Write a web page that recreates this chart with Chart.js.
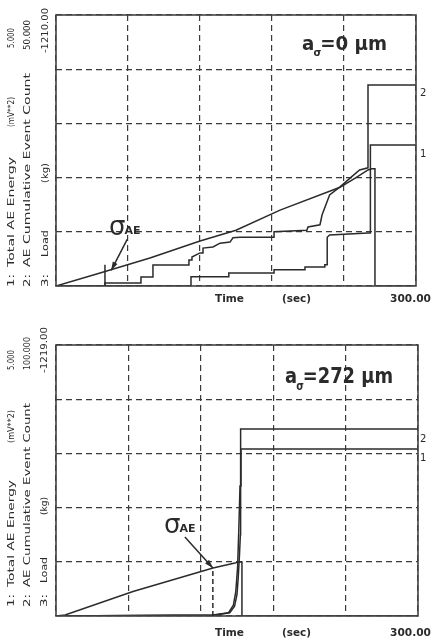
<!DOCTYPE html>
<html>
<head>
<meta charset="utf-8">
<script src="https://cdn.jsdelivr.net/npm/chart.js@4.4.1/dist/chart.umd.min.js"></script>
<style>
  html, body { margin: 0; padding: 0; background: #fff; }
  #wrap { position: relative; width: 433px; height: 644px; overflow: hidden; }
  canvas { position: absolute; left: 0; }
  #c1 { top: 0; }
  #c2 { top: 322px; }
</style>
</head>
<body>
<div id="wrap">
  <canvas id="c1" width="433" height="322"></canvas>
  <canvas id="c2" width="433" height="322"></canvas>
</div>
<script>
// time axis, seconds
const timeMax = 300;
const timeStep = 60;

// ---- upper panel: a = 0 um (energy 0..5, count 0..50, load 0..-1210 kg) ----
const upEnergyT = [0, 112.5, 112.5, 144, 144, 181.7, 181.7, 207.5, 207.5, 224, 224, 226, 226, 228, 260, 262, 262, 300];
const upEnergyV = [0, 0, 0.17, 0.17, 0.24, 0.24, 0.30, 0.30, 0.35, 0.35, 0.39, 0.39, 0.90, 0.94, 0.98, 0.98, 2.60, 2.60];

const upCountT = [0, 40.8, 40.8, 70.8, 70.8, 80.8, 80.8, 110.8, 110.8, 113.3, 113.3, 120, 122.5, 122.5, 130.8, 136.7, 145, 147.5, 153.3, 181.7, 181.7, 209, 210, 220, 221.7, 228, 236.7, 245, 253, 260, 260, 300];
const upCountV = [0, 0, 0.55, 0.55, 1.66, 1.66, 3.87, 3.87, 4.8, 4.8, 5.35, 6.1, 6.1, 7.0, 7.2, 7.9, 8.1, 8.9, 9.0, 9.0, 10.0, 10.3, 10.9, 11.3, 13.1, 16.8, 18.3, 19.9, 21.4, 21.8, 37.1, 37.1];

const upLoadT = [0, 36.7, 78.3, 120, 150, 186.7, 236.7, 249, 260, 263.3, 265.8, 265.8, 300];
const upLoadV = [0, -58, -125, -201, -249, -339, -441, -481, -518, -523, -523, 0, 0];

// ---- lower panel: a = 272 um (energy 0..5, count 0..100, load 0..-1219 kg) ----
const loEnergyT = [0, 130, 143, 147, 149, 150.5, 151.5, 152.5, 153.3, 300];
const loEnergyV = [0, 0.02, 0.06, 0.2, 0.45, 0.9, 1.6, 2.4, 3.08, 3.08];

const loCountT = [0, 132, 144, 148, 150, 151, 152, 152.8, 153, 300];
const loCountV = [0, 0.4, 1.2, 3.6, 8, 14, 22, 30, 69, 69];

const loLoadT = [0, 7.5, 63.8, 130.1, 148.3, 150.8, 154.1, 154.1, 300];
const loLoadV = [0, -4.5, -110, -216, -238, -243, -243, 0, 0];

const INK = '#2b2b2b';
const pts = (t, v) => t.map((x, i) => ({ x: x, y: v[i] }));

function hText(ctx, str, x0, x1, yBase, font) {
  ctx.save();
  ctx.font = font;
  const w = ctx.measureText(str).width;
  ctx.translate(x0, yBase);
  ctx.scale((x1 - x0) / w, 1);
  ctx.fillText(str, 0, 0);
  ctx.restore();
}

function vText(ctx, str, cx, yBot, yTop, font) {
  ctx.save();
  ctx.font = font;
  const w = ctx.measureText(str).width;
  ctx.translate(cx, yBot);
  ctx.rotate(-Math.PI / 2);
  ctx.scale((yBot - yTop) / w, 1);
  ctx.textBaseline = 'middle';
  ctx.fillText(str, 0, 0);
  ctx.restore();
}

function drawTitle(ctx, x0, x1, yBase, size, rest) {
  const big = 'bold ' + size + 'px "DejaVu Sans"';
  const small = 'bold ' + Math.round(size * 0.55) + 'px "DejaVu Sans"';
  ctx.save();
  ctx.font = big;
  const wa = ctx.measureText('a').width;
  const wr = ctx.measureText(rest).width;
  ctx.font = small;
  const ws = ctx.measureText('σ').width * 0.75;
  ctx.translate(x0, yBase);
  ctx.scale((x1 - x0) / (wa + ws + wr), 1);
  ctx.font = big;
  ctx.fillText('a', 0, 0);
  ctx.font = small;
  ctx.fillText('σ', wa - 1, size * 0.3);
  ctx.font = big;
  ctx.fillText(rest, wa + ws, 0);
  ctx.restore();
}

function drawSigma(ctx, x, yBase, size) {
  ctx.save();
  ctx.font = size + 'px "DejaVu Sans"';
  ctx.fillText('σ', x, yBase);
  const w = ctx.measureText('σ').width;
  ctx.font = 'bold ' + Math.round(size * 0.42) + 'px "DejaVu Sans"';
  ctx.fillText('AE', x + w - 1, yBase - 1);
  ctx.restore();
}

function arrow(ctx, x0, y0, x1, y1) {
  const a = Math.atan2(y1 - y0, x1 - x0);
  ctx.save();
  ctx.strokeStyle = INK;
  ctx.fillStyle = INK;
  ctx.lineWidth = 1.5;
  ctx.beginPath();
  ctx.moveTo(x0, y0);
  ctx.lineTo(x1, y1);
  ctx.stroke();
  ctx.beginPath();
  ctx.moveTo(x1, y1);
  ctx.lineTo(x1 - 9 * Math.cos(a - 0.3), y1 - 9 * Math.sin(a - 0.3));
  ctx.lineTo(x1 - 9 * Math.cos(a + 0.3), y1 - 9 * Math.sin(a + 0.3));
  ctx.closePath();
  ctx.fill();
  ctx.restore();
}

const decor = {
  id: 'decor',
  afterDraw(chart) {
    const d = chart.options.plugins.decor;
    const ctx = chart.ctx;
    const a = chart.chartArea;
    const xs = chart.scales.x, ys = chart.scales.yLoad;

    // frame
    ctx.save();
    ctx.strokeStyle = '#444';
    ctx.lineWidth = 1.6;
    ctx.strokeRect(a.left, a.top, a.right - a.left, a.bottom - a.top);
    ctx.restore();

    // onset marker
    const mx = xs.getPixelForValue(d.markT);
    ctx.save();
    ctx.strokeStyle = INK;
    ctx.lineWidth = 1.5;
    if (d.markDash) ctx.setLineDash([5, 3]);
    ctx.beginPath();
    ctx.moveTo(mx, ys.getPixelForValue(0));
    ctx.lineTo(mx, ys.getPixelForValue(d.markLoad));
    ctx.stroke();
    ctx.restore();

    ctx.fillStyle = INK;
    // rotated legend columns
    d.cols.forEach(c => vText(ctx, c[0], c[1], c[2], c[3], '9px "DejaVu Sans"'));
    // title
    drawTitle(ctx, d.title[0], d.title[1], d.title[2], d.title[3], d.title[4]);
    // sigma_AE
    drawSigma(ctx, d.sigma[0], d.sigma[1], d.sigma[2]);
    const tx = xs.getPixelForValue(d.tip[0]), ty = ys.getPixelForValue(d.tip[1]);
    arrow(ctx, tx + d.tail[0], ty + d.tail[1], tx, ty);
    // time axis texts
    const tb = d.timeBase;
    hText(ctx, 'Time', 215, 244, tb, 'bold 11px "DejaVu Sans"');
    hText(ctx, '(sec)', 282, 311, tb, 'bold 11px "DejaVu Sans"');
    hText(ctx, '300.00', 390, 431, tb, 'bold 11px "DejaVu Sans"');
    // curve numbers
    ctx.font = '10px "DejaVu Sans"';
    ctx.fillText('2', 420, d.lab2);
    ctx.fillText('1', 420, d.lab1);
  }
};

function series(label, t, v, axis) {
  return {
    label: label,
    data: pts(t, v),
    yAxisID: axis,
    borderColor: INK,
    borderWidth: 1.5,
    pointRadius: 0,
    fill: false,
    tension: 0
  };
}

const gridOpts = { color: '#3a3a3a', lineWidth: 1.2, drawTicks: false };
const borderOpts = { display: false, dash: [6, 4] };

function panel(id, p) {
  new Chart(document.getElementById(id), {
    type: 'line',
    data: {
      datasets: [
        series('Load', p.loadT, p.loadV, 'yLoad'),
        series('AE Cumulative Event Count', p.countT, p.countV, 'yCount'),
        series('Total AE Energy', p.energyT, p.energyV, 'y')
      ]
    },
    options: {
      responsive: false,
      animation: false,
      layout: { padding: p.padding },
      plugins: { legend: { display: false }, tooltip: { enabled: false }, decor: p.decor },
      scales: {
        x: { type: 'linear', min: 0, max: timeMax, ticks: { display: false, stepSize: timeStep }, grid: gridOpts, border: borderOpts },
        y: { min: 0, max: 5, ticks: { display: false, stepSize: 1 }, grid: gridOpts, border: borderOpts },
        yCount: { display: false, min: 0, max: p.countMax },
        yLoad: { display: false, min: p.loadMax, max: 0, reverse: true }
      }
    },
    plugins: [decor]
  });
}

panel('c1', {
  energyT: upEnergyT, energyV: upEnergyV,
  countT: upCountT, countV: upCountV,
  loadT: upLoadT, loadV: upLoadV,
  countMax: 50, loadMax: -1210,
  padding: { left: 56, right: 17, top: 15, bottom: 36 },
  decor: {
    markT: 40.8, markLoad: -95, markDash: false,
    cols: [
      ['1:', 12, 287, 274], ['Total AE Energy', 12, 267, 157], ['(mV**2)', 12, 127, 97], ['5.000', 12, 48, 28],
      ['2:', 28, 287, 274], ['AE Cumulative Event Count', 28, 267, 73], ['50.000', 28, 50, 20],
      ['3:', 46, 287, 274], ['Load', 46, 257, 230], ['(kg)', 46, 183, 163], ['-1210.00', 46, 53, 8]
    ],
    title: [302, 387, 50, 20, '=0 μm'],
    sigma: [109, 235, 26],
    tip: [46, -70], tail: [16, -31],
    timeBase: 302, lab2: 96, lab1: 157
  }
});

panel('c2', {
  energyT: loEnergyT, energyV: loEnergyV,
  countT: loCountT, countV: loCountV,
  loadT: loLoadT, loadV: loLoadV,
  countMax: 100, loadMax: -1219,
  padding: { left: 56, right: 15, top: 23, bottom: 28 },
  decor: {
    markT: 130, markLoad: -216, markDash: true,
    cols: [
      ['1:', 12, 285, 272], ['Total AE Energy', 12, 265, 158], ['(mV**2)', 12, 121, 88], ['5.000', 12, 48, 28],
      ['2:', 28, 285, 272], ['AE Cumulative Event Count', 28, 265, 81], ['100.000', 28, 48, 15],
      ['3:', 45, 285, 272], ['Load', 45, 261, 235], ['(kg)', 45, 193, 175], ['-1219.00', 45, 51, 5]
    ],
    title: [285, 393, 61, 22, '=272 μm'],
    sigma: [164, 211, 26],
    tip: [130, -216], tail: [-28, -31],
    timeBase: 314, lab2: 120, lab1: 139
  }
});
</script>
</body>
</html>
